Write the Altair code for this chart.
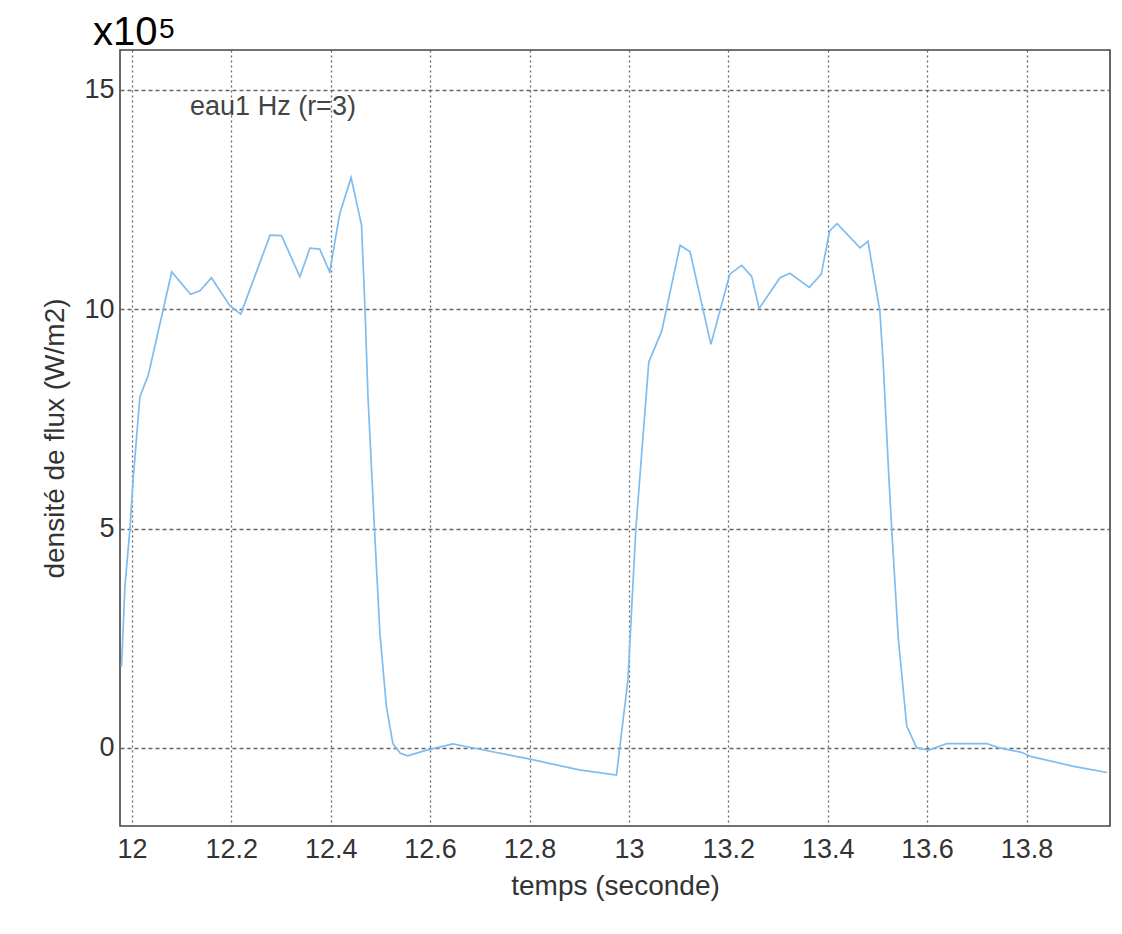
import altair as alt
import pandas as pd

t = [11.979, 11.986, 11.996, 12.003, 12.016, 12.033, 12.063, 12.080, 12.118, 12.137,
     12.160, 12.197, 12.219, 12.278, 12.301, 12.338, 12.358, 12.378, 12.398, 12.418,
     12.441, 12.462, 12.469, 12.475, 12.488, 12.499, 12.512, 12.525, 12.540, 12.555,
     12.593, 12.646, 12.700, 12.794, 12.900, 12.975, 12.998, 13.014, 13.040, 13.066,
     13.103, 13.123, 13.165, 13.203, 13.227, 13.247, 13.262, 13.304, 13.324, 13.363,
     13.387, 13.404, 13.419, 13.465, 13.481, 13.505, 13.512, 13.522, 13.529, 13.542,
     13.559, 13.579, 13.603, 13.640, 13.720, 13.745, 13.790, 13.810, 13.895, 13.962]
flux = [1.85, 3.7, 5.0, 6.2, 8.0, 8.5, 10.0, 10.85, 10.34, 10.42,
        10.72, 10.08, 9.89, 11.69, 11.68, 10.74, 11.39, 11.37, 10.85, 12.17,
        13.0, 11.92, 10.0, 8.0, 5.0, 2.6, 0.95, 0.1, -0.12, -0.18,
        -0.05, 0.09, -0.03, -0.24, -0.50, -0.62, 1.55, 5.0, 8.8, 9.5,
        11.46, 11.31, 9.2, 10.8, 11.0, 10.75, 10.02, 10.72, 10.82, 10.5,
        10.8, 11.79, 11.95, 11.4, 11.55, 9.95, 8.7, 6.4, 4.95, 2.5,
        0.5, 0.0, -0.05, 0.1, 0.1, 0.0, -0.1, -0.2, -0.42, -0.56]

x_ticks = [12, 12.2, 12.4, 12.6, 12.8, 13, 13.2, 13.4, 13.6, 13.8]
y_ticks = [0, 5, 10, 15]

df = pd.DataFrame({"t": t, "flux": flux})

FONT = "Liberation Sans"

xs = alt.Scale(domain=[11.976, 13.968], nice=False, zero=False)
ys = alt.Scale(domain=[-1.78, 15.91], nice=False, zero=False)

line = alt.Chart(df).mark_line(color="#7fbcef", strokeWidth=1.7, clip=True).encode(
    x=alt.X("t:Q", scale=xs,
            axis=alt.Axis(values=x_ticks, title="temps (seconde)", labelFlush=False,
                          gridDash=[2, 3], labelPadding=10,
                          labelExpr="datum.value == 13 ? '13' : datum.value == 12 ? '12' : format(datum.value, '.1f')",
                          titlePadding=10)),
    y=alt.Y("flux:Q", scale=ys,
            axis=alt.Axis(values=y_ticks, title="densité de  flux (W/m2)", format="d",
                          gridDash=[4, 3], labelPadding=6, titlePadding=14)),
)

ann = alt.Chart(pd.DataFrame({"t": [12.117], "flux": [14.6], "txt": ["eau1 Hz (r=3)"]})).mark_text(
    align="left", baseline="middle", fontSize=27, font=FONT, color="#444"
).encode(x=alt.X("t:Q", scale=xs), y=alt.Y("flux:Q", scale=ys), text="txt:N")

mult = alt.Chart(pd.DataFrame({"txt": ["x10"]})).mark_text(
    align="left", baseline="alphabetic", fontSize=40, font=FONT, color="#000"
).encode(x=alt.value(-27), y=alt.value(-5), text="txt:N")

exp5 = alt.Chart(pd.DataFrame({"txt": ["5"]})).mark_text(
    align="left", baseline="alphabetic", fontSize=28, font=FONT, color="#000"
).encode(x=alt.value(39), y=alt.value(-12), text="txt:N")

chart = alt.layer(line, ann, mult, exp5).properties(
    width=990, height=776,
    autosize=alt.AutoSizeParams(type="none"),
    padding={"left": 120, "top": 50, "right": 12, "bottom": 108},
    background="white",
).configure_view(
    stroke="#444", strokeWidth=1.6
).configure_axis(
    labelFont=FONT, titleFont=FONT, labelFontSize=27, titleFontSize=28,
    labelColor="#333", titleColor="#333", titleFontWeight="normal",
    gridColor="#555", gridWidth=1.3, gridOpacity=0.9,
    domain=False, ticks=False,
)

chart.save("out.html", embed_options={"renderer": "svg", "actions": False})
